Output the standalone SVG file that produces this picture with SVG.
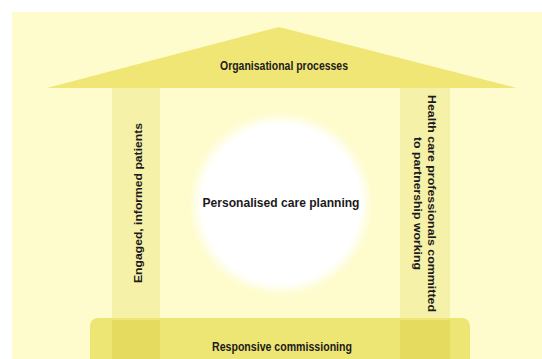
<svg xmlns="http://www.w3.org/2000/svg" width="542" height="359" viewBox="0 0 542 359">
  <defs>
    <radialGradient id="glow" cx="0.5" cy="0.5" r="0.5">
      <stop offset="0" stop-color="#ffffff"/>
      <stop offset="0.86" stop-color="#ffffff"/>
      <stop offset="1" stop-color="#ffffff" stop-opacity="0"/>
    </radialGradient>
    <style>
      .lbl { font-family: "Liberation Sans", Arial, sans-serif; font-weight: bold; fill: #1c1a1a; text-anchor: middle; }
      .pillar { fill: #f5f1a8; }
      .band { fill: #e5db5f; }
    </style>
  </defs>
  <rect x="0" y="0" width="542" height="359" fill="#ffffff"/>
  <rect id="background" x="12" y="12" width="540" height="360" fill="#fefccd"/>

  <g id="pillar-left">
    <rect class="pillar" x="112" y="86" width="48" height="234"/>
    <text class="lbl" font-size="11.5" dominant-baseline="central" textLength="160" lengthAdjust="spacingAndGlyphs" transform="translate(138,203) rotate(-90)">Engaged, informed patients</text>
  </g>

  <g id="pillar-right">
    <rect class="pillar" x="400" y="86" width="50" height="234"/>
    <text class="lbl" font-size="11.5" dominant-baseline="central" textLength="217" lengthAdjust="spacingAndGlyphs" transform="translate(432,203.5) rotate(90)">Health care professionals committed</text>
    <text class="lbl" font-size="11.5" dominant-baseline="central" textLength="133" lengthAdjust="spacingAndGlyphs" transform="translate(418,203.5) rotate(90)">to partnership working</text>
  </g>

  <g id="roof">
    <polygon points="47,88 279,27 517,88" fill="#f0e676"/>
    <text class="lbl" x="284" y="70" font-size="12" textLength="128" lengthAdjust="spacingAndGlyphs">Organisational processes</text>
  </g>

  <g id="centre">
    <circle cx="281" cy="204" r="92" fill="url(#glow)"/>
    <text class="lbl" x="281" y="207" font-size="13" textLength="157" lengthAdjust="spacingAndGlyphs">Personalised care planning</text>
  </g>

  <g id="base">
    <rect x="90" y="318" width="380" height="60" rx="8" fill="#eee674"/>
    <rect class="band" x="112" y="320" width="48" height="39"/>
    <rect class="band" x="400" y="320" width="50" height="39"/>
    <text class="lbl" x="282" y="351" font-size="12.5" textLength="140" lengthAdjust="spacingAndGlyphs">Responsive commissioning</text>
  </g>
</svg>
